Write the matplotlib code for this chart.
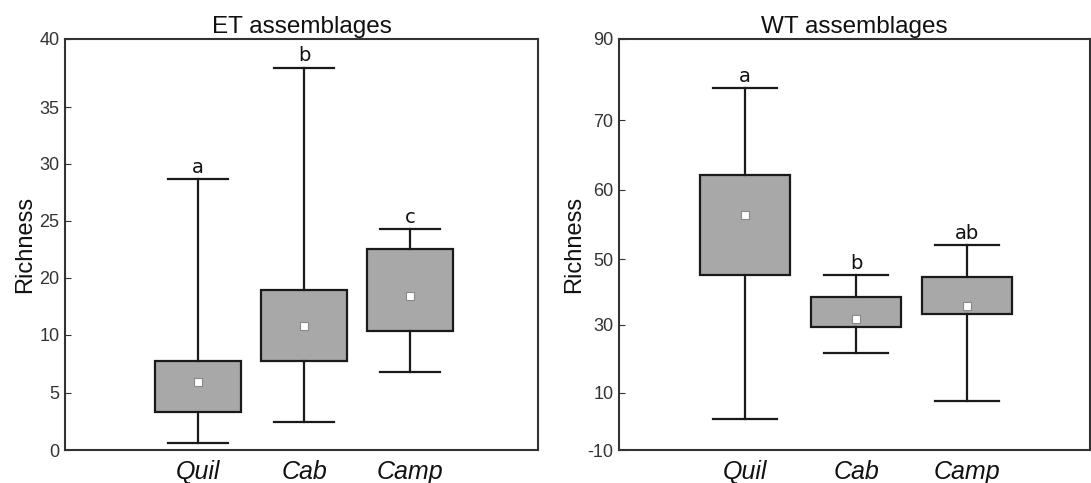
import numpy as np
import matplotlib.pyplot as plt

# Datos (valores en unidades de las etiquetas del eje)
sitios = ['Quil', 'Cab', 'Camp']

et_whislo = [0.6, 2.4, 6.8]
et_q1 = [3.3, 7.7, 10.7]
et_mean = [5.9, 11.6, 16.8]
et_q3 = [7.7, 17.8, 22.5]
et_whishi = [28.7, 37.9, 24.3]
et_letras = ['a', 'b', 'c']

wt_whislo = [0.9, 21.6, 7.0]
wt_q1 = [45.1, 29.2, 33.2]
wt_mean = [56.4, 31.7, 35.7]
wt_q3 = [62.1, 38.5, 44.4]
wt_whishi = [78.0, 45.1, 52.1]
wt_letras = ['a', 'b', 'ab']

# Etiquetas del eje y (la figura original no tiene un eje lineal)
et_ticks = [0, 5, 10, 20, 25, 30, 35, 40]
et_tick_pos = [0, 57.3, 115, 172, 229, 286, 342.7, 410.7]
wt_ticks = [-10, 10, 30, 50, 60, 70, 90]
wt_tick_pos = [0, 57.3, 125.3, 190.7, 260, 329.3, 410.7]

ARIAL = 'Liberation Sans'


def escala(ticks, pos):
    def forward(y):
        return np.interp(y, ticks, pos, left=pos[0], right=pos[-1])

    def inverse(y):
        return np.interp(y, pos, ticks)
    return forward, inverse


def panel(ax, titulo, lo, q1, mean, q3, hi, letras, ticks, tick_pos, xlim):
    stats = []
    for i in range(len(sitios)):
        stats.append({'whislo': lo[i], 'q1': q1[i], 'med': mean[i], 'mean': mean[i],
                      'q3': q3[i], 'whishi': hi[i], 'fliers': []})
    pos = [1, 2, 3]
    ax.bxp(stats, positions=pos, widths=0.81, showmeans=True, patch_artist=True,
           boxprops=dict(facecolor='#a8a8a8', edgecolor='#1a1a1a', linewidth=1.6),
           whiskerprops=dict(color='#1a1a1a', linewidth=1.6),
           capprops=dict(color='#1a1a1a', linewidth=1.6),
           medianprops=dict(visible=False),
           meanprops=dict(marker='s', markerfacecolor='white', markeredgecolor='#888888',
                          markersize=6, markeredgewidth=0.8),
           capwidths=0.57)
    for p, h, l in zip(pos, hi, letras):
        ax.annotate(l, (p, h), xytext=(0, 1.5), textcoords='offset points',
                    ha='center', va='bottom', fontsize=14, color='#111111')
    f, inv = escala(ticks, tick_pos)
    ax.set_yscale('function', functions=(f, inv))
    ax.set_ylim(ticks[0], ticks[-1])
    ax.set_yticks(ticks)
    ax.set_yticklabels([str(t) for t in ticks], family=ARIAL, fontsize=13)
    ax.yaxis.set_minor_locator(plt.NullLocator())
    ax.set_xlim(xlim)
    ax.set_xticks(pos)
    ax.set_xticklabels(sitios, fontstyle='italic', fontsize=18, family=ARIAL)
    ax.tick_params(axis='x', length=0, pad=7, colors='#111111')
    ax.tick_params(axis='y', direction='in', length=4, colors='#333333',
                   labelcolor='#333333', pad=4)
    ax.set_ylabel('Richness', fontsize=17, color='#111111', labelpad=2, family=ARIAL)
    ax.set_title(titulo, fontsize=17.5, pad=4, color='#111111', family=ARIAL)
    for s in ax.spines.values():
        s.set_linewidth(1.5)
        s.set_color('#333333')


fig = plt.figure(figsize=(10.91, 4.83), dpi=100)
ax1 = fig.add_axes([0.0596, 0.0683, 0.4335, 0.851])
ax2 = fig.add_axes([0.5674, 0.0683, 0.4317, 0.851])

panel(ax1, 'ET assemblages', et_whislo, et_q1, et_mean, et_q3, et_whishi, et_letras,
      et_ticks, et_tick_pos, (-0.257, 4.205))
panel(ax2, 'WT assemblages', wt_whislo, wt_q1, wt_mean, wt_q3, wt_whishi, wt_letras,
      wt_ticks, wt_tick_pos, (-0.135, 4.108))

fig.savefig('out.png', dpi=100)
